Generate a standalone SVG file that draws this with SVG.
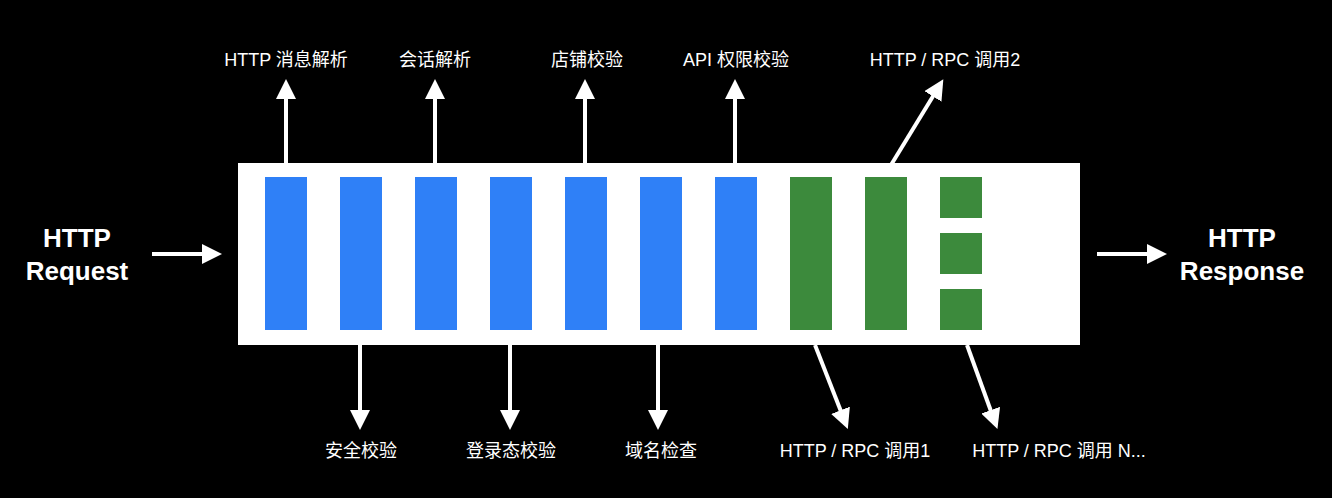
<svg xmlns="http://www.w3.org/2000/svg" width="1332" height="498" viewBox="0 0 1332 498">
<style>
.lbl{font-family:"Liberation Sans","Noto Sans CJK SC",sans-serif;font-size:18px;fill:#fff;text-anchor:middle}
.big{font-family:"Liberation Sans",sans-serif;font-size:26px;font-weight:bold;fill:#fff;text-anchor:middle}
.b{fill:#2f80f7}.g{fill:#3c8a3c}
.c{stroke:#fff;stroke-width:4;fill:none;marker-end:url(#ah)}
</style>
<defs><marker id="ah" markerWidth="5" markerHeight="5" refX="1" refY="2.5" orient="auto" markerUnits="strokeWidth"><path d="M0,0 L5,2.5 L0,5 z" fill="#fff"/></marker></defs>
<rect width="1332" height="498" fill="#000"/>
<g id="box"><rect x="238" y="163" width="842" height="182" fill="#fff"/></g>
<g id="bars">
<rect class="b" x="265" y="177" width="42" height="153"/>
<rect class="b" x="340" y="177" width="42" height="153"/>
<rect class="b" x="415" y="177" width="42" height="153"/>
<rect class="b" x="490" y="177" width="42" height="153"/>
<rect class="b" x="565" y="177" width="42" height="153"/>
<rect class="b" x="640" y="177" width="42" height="153"/>
<rect class="b" x="715" y="177" width="42" height="153"/>
<rect class="g" x="790" y="177" width="42" height="153"/>
<rect class="g" x="865" y="177" width="42" height="153"/>
<rect class="g" x="940" y="177" width="42" height="41"/>
<rect class="g" x="940" y="233" width="42" height="41"/>
<rect class="g" x="940" y="289" width="42" height="41"/>
</g>
<g id="connectors">
<line class="c" x1="152" y1="254" x2="206" y2="254"/>
<line class="c" x1="1097" y1="254" x2="1151" y2="254"/>
<line class="c" x1="286" y1="163" x2="286" y2="95"/>
<line class="c" x1="435" y1="163" x2="435" y2="95"/>
<line class="c" x1="585" y1="163" x2="585" y2="95"/>
<line class="c" x1="735" y1="163" x2="735" y2="95"/>
<line class="c" x1="891" y1="165" x2="935" y2="93"/>
<line class="c" x1="360" y1="345" x2="360" y2="414"/>
<line class="c" x1="510" y1="345" x2="510" y2="414"/>
<line class="c" x1="658" y1="345" x2="658" y2="414"/>
<line class="c" x1="815" y1="345" x2="842" y2="414"/>
<line class="c" x1="967" y1="345" x2="992" y2="414"/>
</g>
<g id="texts">
<text class="big" x="77" y="247">HTTP</text>
<text class="big" x="77" y="280">Request</text>
<text class="big" x="1242" y="247">HTTP</text>
<text class="big" x="1242" y="280">Response</text>
<text class="lbl" x="286" y="66">HTTP 消息解析</text>
<text class="lbl" x="435" y="66">会话解析</text>
<text class="lbl" x="587" y="66">店铺校验</text>
<text class="lbl" x="736" y="66">API 权限校验</text>
<text class="lbl" x="945" y="66">HTTP / RPC 调用2</text>
<text class="lbl" x="361" y="457">安全校验</text>
<text class="lbl" x="511" y="457">登录态校验</text>
<text class="lbl" x="661" y="457">域名检查</text>
<text class="lbl" x="855" y="457">HTTP / RPC 调用1</text>
<text class="lbl" x="1059" y="457">HTTP / RPC 调用 N...</text>
</g>
</svg>
